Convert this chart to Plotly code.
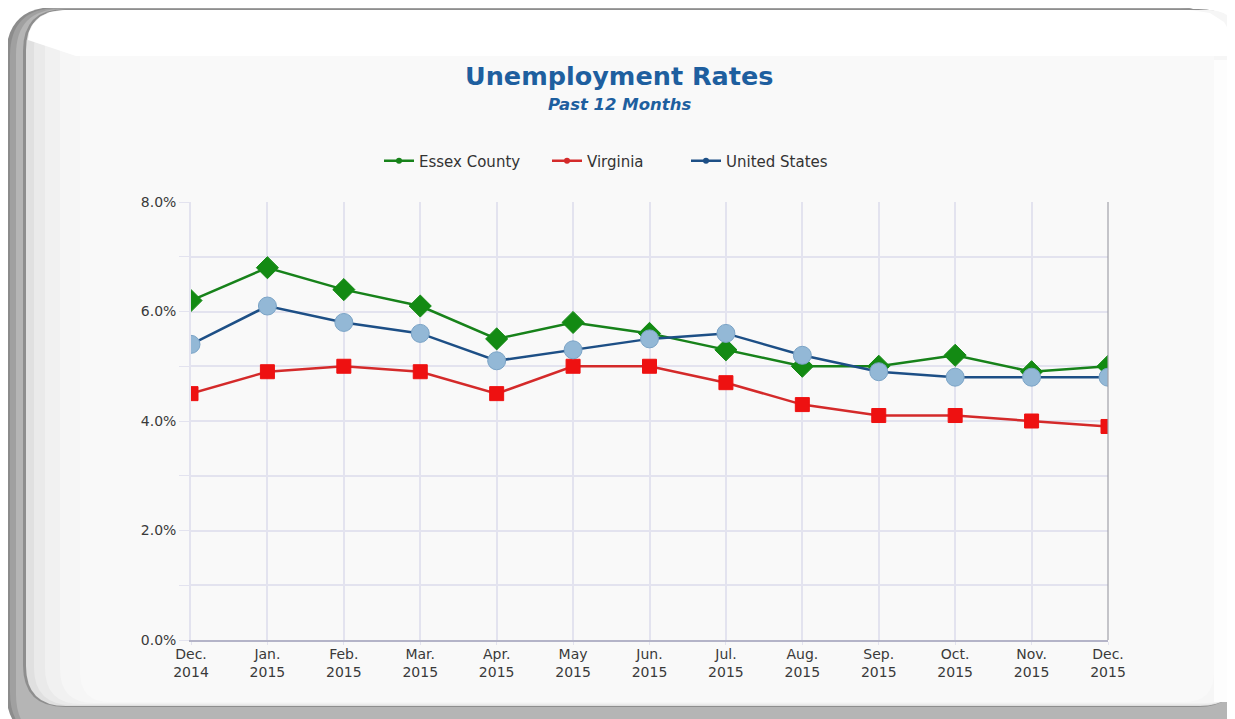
import plotly.graph_objects as go

months = ["Dec.<br>2014", "Jan.<br>2015", "Feb.<br>2015", "Mar.<br>2015", "Apr.<br>2015",
          "May<br>2015", "Jun.<br>2015", "Jul.<br>2015", "Aug.<br>2015", "Sep.<br>2015",
          "Oct.<br>2015", "Nov.<br>2015", "Dec.<br>2015"]
essex = [6.2, 6.8, 6.4, 6.1, 5.5, 5.8, 5.6, 5.3, 5.0, 5.0, 5.2, 4.9, 5.0]
virginia = [4.5, 4.9, 5.0, 4.9, 4.5, 5.0, 5.0, 4.7, 4.3, 4.1, 4.1, 4.0, 3.9]
united_states = [5.4, 6.1, 5.8, 5.6, 5.1, 5.3, 5.5, 5.6, 5.2, 4.9, 4.8, 4.8, 4.8]
y_ticks = [0, 1, 2, 3, 4, 5, 6, 7, 8]
y_labels = ["0.0%", "", "2.0%", "", "4.0%", "", "6.0%", "", "8.0%"]

OFF = 8  # page body margin
W, H = 1235 - OFF, 719 - OFF
# plot area in page pixels
L, R, T, B = 191, 1108, 202, 640


def px(x):
    return (x - L) / (R - L)


def py(y):
    return (B - y) / (B - T)


def rrect(x0, y0, x1, y1, r):
    rx = r / (R - L)
    ry = r / (B - T)
    X0, X1 = px(x0), px(x1)
    Y0, Y1 = py(y1), py(y0)
    return (f"M{X0+rx},{Y1} L{X1-rx},{Y1} Q{X1},{Y1} {X1},{Y1-ry} "
            f"L{X1},{Y0+ry} Q{X1},{Y0} {X1-rx},{Y0} L{X0+rx},{Y0} "
            f"Q{X0},{Y0} {X0},{Y0+ry} L{X0},{Y1-ry} Q{X0},{Y1} {X0+rx},{Y1} Z")


def rect(x0, y0, x1, y1, color):
    return dict(type="rect", xref="paper", yref="paper", x0=px(x0), x1=px(x1),
                y0=py(y1), y1=py(y0), fillcolor=color, line=dict(width=0), layer="below")


def rpath(x0, y0, x1, y1, r, color):
    return dict(type="path", xref="paper", yref="paper", path=rrect(x0, y0, x1, y1, r),
                fillcolor=color, line=dict(width=0), layer="below")


def poly(points, color):
    p = "M" + " L".join(f"{px(a)},{py(b)}" for a, b in points) + " Z"
    return dict(type="path", xref="paper", yref="paper", path=p,
                fillcolor=color, line=dict(width=0), layer="below")


series = [
    ("Essex County", essex, "#17821a", "#138a13", "diamond", 17, "legend"),
    ("Virginia", virginia, "#d42a2a", "#ee1111", "square", 14, "legend2"),
    ("United States", united_states, "#1d4f86", "#93b8d6", "circle", 18, "legend3"),
]

x = list(range(len(months)))
fig = go.Figure()
for name, vals, lc, mc, sym, size, lg in series:
    fig.add_trace(go.Scatter(x=x, y=vals, name=name, mode="lines+markers", showlegend=False,
                             line=dict(color=lc, width=2.5),
                             marker=dict(symbol=sym, size=size, color=mc,
                                         line=dict(color=mc if sym != "circle" else "#7aa3c6",
                                                   width=1))))
for name, vals, lc, mc, sym, size, lg in series:
    fig.add_trace(go.Scatter(x=[None], y=[None], name=name, mode="lines+markers",
                             showlegend=True, legend=lg,
                             line=dict(color=lc, width=2.5),
                             marker=dict(symbol="circle", size=6, color=lc)))

top_white = [(28, 40), (29, 32), (33, 24), (40, 17), (50, 12), (65, 10), (1190, 10),
             (1210, 13), (1224, 22), (1232, 35), (1236, 50), (1236, 56), (76, 56)]

shapes = [
    rpath(6, 7, 1226, 740, 50, "#8c8c8c"),
    rpath(10, 8, 1228, 740, 48, "#a0a0a0"),
    rpath(16, 9, 1232, 740, 46, "#b5b5b5"),
    rpath(23, 9, 1240, 707, 42, "#8e8e8e"),
    rpath(26, 10, 1240, 706, 40, "#e0e0e0"),
    rpath(34, 10, 1240, 705, 38, "#eaeaea"),
    rpath(45, 10, 1240, 704, 36, "#f1f1f1"),
    rpath(60, 10, 1240, 703, 34, "#f6f6f6"),
    rpath(80, 10, 1214, 702, 30, "#f9f9f9"),
    rect(1214, 60, 1240, 702, "#fdfdfd"),
    poly(top_white, "#ffffff"),
    dict(type="line", xref="paper", yref="paper", x0=1, x1=1, y0=0, y1=1,
         line=dict(color="#a0a0a8", width=1.2), layer="above"),
]

leg_common = dict(orientation="h", yanchor="middle", y=py(161), xanchor="left",
                  font=dict(family="DejaVu Sans", size=15, color="#333333"),
                  bgcolor="rgba(0,0,0,0)", borderwidth=0)

fig.update_layout(
    width=W, height=H,
    margin=dict(l=L - OFF, r=W - (R - OFF), t=T - OFF, b=H - (B - OFF)),
    paper_bgcolor="#ffffff",
    plot_bgcolor="rgba(0,0,0,0)",
    shapes=shapes,
    legend=dict(x=px(379), **leg_common),
    legend2=dict(x=px(547), **leg_common),
    legend3=dict(x=px(686), **leg_common),
    annotations=[
        dict(text="<b>Unemployment Rates</b>", xref="paper", yref="paper", x=px(619), y=py(76),
             showarrow=False, xanchor="center", yanchor="middle",
             font=dict(family="DejaVu Sans", size=25.5, color="#1e5f9f")),
        dict(text="<b><i>Past 12 Months</i></b>", xref="paper", yref="paper", x=px(619), y=py(105),
             showarrow=False, xanchor="center", yanchor="middle",
             font=dict(family="DejaVu Sans", size=16.5, color="#1e5f9f")),
    ],
    xaxis=dict(range=[0, 12], tickvals=x, ticktext=months, showgrid=True,
               gridcolor="#e3e3ef", gridwidth=1.5, zeroline=False,
               showline=True, linecolor="#b4b4c8", linewidth=2,
               ticks="outside", ticklen=3, tickcolor="#e3e3ef",
               ticklabelstandoff=-3,
               tickfont=dict(family="DejaVu Sans", size=14, color="#3a3a3a"),
               fixedrange=True),
    yaxis=dict(range=[0, 8], tickvals=y_ticks, ticktext=y_labels, showgrid=True,
               gridcolor="#e3e3ef", gridwidth=1.5, zeroline=False,
               showline=True, linecolor="#e3e3ef", linewidth=1.5,
               ticks="outside", ticklen=10, tickcolor="#e3e3ef",
               tickfont=dict(family="DejaVu Sans", size=14, color="#3a3a3a"),
               fixedrange=True),
)

fig.write_html("out.html")
